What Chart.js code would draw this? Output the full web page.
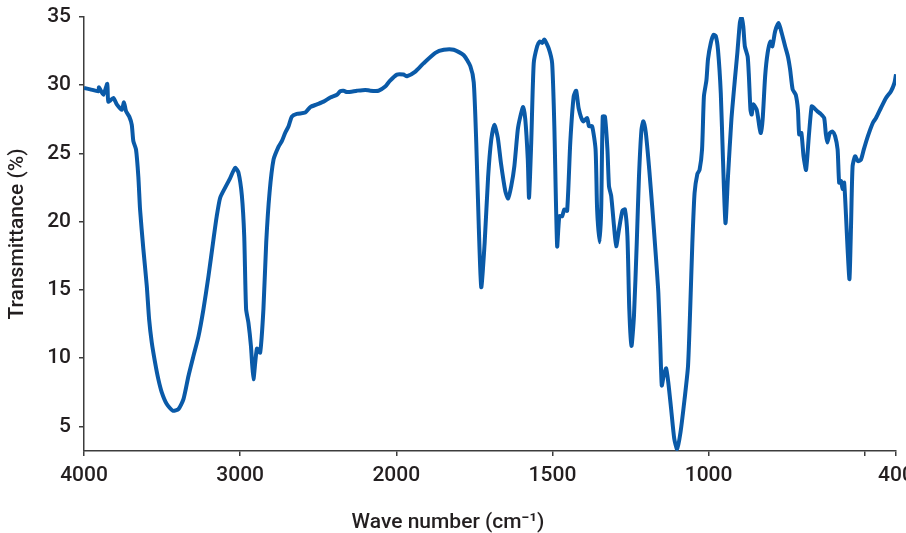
<!DOCTYPE html>
<html>
<head>
<meta charset="utf-8">
<script src="https://cdn.jsdelivr.net/npm/chart.js@4.4.1/dist/chart.umd.min.js"></script>
<style>
  html, body { margin: 0; padding: 0; background: #fff; }
</style>
</head>
<body>
<canvas id="grafico" width="906" height="533"></canvas>
<script>
// Espectro IR: numero de onda (cm-1) e transmitancia (%)
const numeroOnda = [
  4000, 3960, 3908, 3904, 3876, 3851, 3844, 3812, 3790, 3758, 3744, 3731, 3710, 3694, 3684, 3667,
  3652, 3641, 3620, 3598, 3583, 3566, 3545, 3524, 3502, 3470, 3431, 3395, 3363, 3331, 3299, 3267,
  3235, 3203, 3171, 3150, 3128, 3096, 3064, 3032, 3011, 2989, 2974, 2962, 2947, 2931, 2915, 2893,
  2872, 2851, 2833, 2812, 2786, 2754, 2733, 2712, 2690, 2669, 2637, 2583, 2551, 2508, 2466, 2423,
  2380, 2359, 2338, 2316, 2252, 2199, 2167, 2114, 2071, 2043, 1998, 1977, 1966, 1939, 1913, 1875,
  1848, 1816, 1784, 1763, 1752, 1744, 1736, 1728, 1717, 1706, 1696, 1686, 1675, 1665, 1651, 1642,
  1632, 1622, 1611, 1603, 1594, 1587, 1579, 1575, 1568, 1560, 1549, 1541, 1533, 1526, 1512, 1501,
  1494, 1485, 1478, 1469, 1462, 1453, 1443, 1432, 1424, 1416, 1402, 1389, 1383, 1373, 1362, 1357,
  1349, 1344, 1339, 1332, 1324, 1319, 1312, 1303, 1296, 1287, 1276, 1268, 1260, 1254, 1247, 1239,
  1230, 1223, 1215, 1209, 1201, 1190, 1180, 1169, 1161, 1155, 1150, 1144, 1136, 1129, 1120, 1110,
  1101, 1090, 1077, 1066, 1059, 1052, 1045, 1036, 1029, 1021, 1015, 1007, 1002, 993, 984, 977,
  970, 961, 954, 946, 938, 927, 916, 908, 900, 895, 889, 884, 875, 871, 866, 862,
  857, 846, 837, 833, 827, 819, 811, 802, 796, 787, 776, 766, 755, 746, 739, 731,
  721, 714, 710, 703, 696, 688, 679, 670, 663, 652, 641, 630, 625, 620, 612, 603,
  595, 587, 582, 576, 571, 566, 560, 555, 549, 544, 539, 531, 522, 512, 503, 490,
  474, 464, 448, 432, 416, 405, 400
];
const transmitancia = [
  29.8, 29.7, 29.56, 29.85, 29.3, 30.1, 28.8, 29.07, 28.6, 28.2, 28.75, 28.1, 27.7, 27.1, 25.9, 25.3,
  23.3, 20.9, 18.0, 15.3, 12.85, 11.15, 9.7, 8.47, 7.5, 6.64, 6.15, 6.27, 7.0, 8.7, 10.17, 11.6,
  13.6, 16.0, 18.7, 20.4, 21.76, 22.5, 23.2, 23.95, 23.6, 21.9, 18.95, 13.6, 12.6, 10.9, 8.47, 10.7,
  10.4, 13.6, 18.5, 22.1, 24.56, 25.5, 25.9, 26.5, 27.0, 27.7, 27.9, 28.0, 28.4, 28.6, 28.8, 29.1,
  29.3, 29.56, 29.6, 29.5, 29.6, 29.66, 29.6, 29.6, 29.9, 30.3, 30.78, 30.78, 30.66, 31.0, 31.6, 32.37,
  32.6, 32.6, 32.2, 31.4, 30.2, 25.8, 19.7, 15.2, 18.5, 23.3, 26.0, 27.1, 26.15, 24.3, 22.24, 21.7,
  22.6, 24.07, 26.75, 27.7, 28.4, 27.5, 24.56, 21.76, 25.8, 31.6, 32.85, 33.2, 33.1, 33.34, 32.7, 31.6,
  27.0, 18.2, 20.4, 20.4, 20.9, 20.8, 25.8, 29.2, 29.6, 28.3, 27.36, 27.6, 27.0, 27.0, 25.3, 20.9,
  18.5, 20.9, 27.7, 27.7, 25.3, 22.6, 21.9, 19.7, 18.2, 19.44, 20.8, 20.9, 18.95, 13.6, 10.9, 13.1,
  18.5, 23.3, 26.75, 27.36, 26.5, 23.8, 20.9, 17.5, 14.8, 11.15, 8.0, 8.7, 9.25, 8.2, 6.27, 4.1,
  3.35, 4.57, 7.0, 9.4, 13.6, 18.5, 22.1, 23.5, 23.8, 25.3, 29.2, 30.36, 31.9, 33.1, 33.7, 33.6,
  32.6, 29.4, 24.56, 19.9, 23.3, 27.5, 30.4, 32.37, 34.56, 35.0, 34.3, 32.85, 32.1, 30.66, 28.2, 27.85,
  28.6, 28.2, 26.9, 26.5, 27.5, 30.66, 32.37, 33.2, 32.85, 33.95, 34.56, 33.83, 32.85, 32.1, 31.15, 29.7,
  29.3, 28.2, 26.4, 26.5, 24.8, 23.8, 26.3, 28.46, 28.35, 28.1, 27.9, 27.6, 26.5, 25.8, 26.5, 26.6,
  26.27, 25.3, 22.86, 22.98, 22.4, 22.86, 20.4, 18.0, 15.8, 19.7, 24.07, 24.8, 24.44, 24.56, 25.3, 26.27,
  27.25, 27.6, 28.35, 29.07, 29.56, 30.17, 30.8
];
const ticksX = [4000, 3000, 2000, 1500, 1000, 500, 400];
const ticksXSemRotulo = [500];
const ticksY = [5, 10, 15, 20, 25, 30, 35];

// acima de 2000 cm-1 o eixo fica comprimido pela metade
const paraEixo = w => (w > 2000 ? 2000 + (w - 2000) / 2 : w);
const doEixo = u => (u > 2000 ? 2000 + (u - 2000) * 2 : u);

const pontos = numeroOnda.map((w, i) => ({ x: paraEixo(w), y: transmitancia[i] }));

const corTexto = "#231f20";
const corEixo = "#3c3c3c";
const fonte = "Roboto, 'Liberation Sans', Arial, sans-serif";

const ctx = document.getElementById("grafico").getContext("2d");

new Chart(ctx, {
  type: "line",
  data: {
    datasets: [{
      data: pontos,
      borderColor: "#0a5aa8",
      borderWidth: 4,
      pointRadius: 0,
      tension: 0.2,
      fill: false
    }]
  },
  options: {
    responsive: false,
    animation: false,
    layout: { padding: { top: 17, right: 10, left: 0, bottom: 0 } },
    plugins: {
      legend: { display: false },
      tooltip: { enabled: false },
      title: {
        display: true,
        position: "bottom",
        text: "Wave number (cm\u207B\u00B9)",
        color: corTexto,
        font: { family: fonte, size: 21, weight: 500, lineHeight: 1 },
        padding: 0
      }
    },
    scales: {
      x: {
        type: "linear",
        reverse: true,
        min: 400,
        max: 3000,
        afterBuildTicks: s => { s.ticks = ticksX.map(w => ({ value: paraEixo(w) })); },
        afterFit: s => { s.height = 61; s.paddingLeft = 0; s.paddingRight = 0; },
        ticks: {
          autoSkip: false,
          maxRotation: 0,
          padding: 7,
          color: corTexto,
          font: { family: fonte, size: 21, weight: 500 },
          callback: v => {
            const w = Math.round(doEixo(v));
            return ticksXSemRotulo.includes(w) ? "" : String(w);
          }
        },
        grid: { drawOnChartArea: false, tickLength: 5, color: corEixo, lineWidth: 1.5 },
        border: { color: corEixo, width: 1.5 }
      },
      y: {
        min: 3.2,
        max: 35,
        afterBuildTicks: s => { s.ticks = ticksY.map(v => ({ value: v })); },
        afterFit: s => { s.width = 84; s.paddingTop = 0; s.paddingBottom = 0; },
        ticks: {
          padding: 8,
          color: corTexto,
          font: { family: fonte, size: 21, weight: 500 }
        },
        title: {
          display: true,
          text: "Transmittance (%)",
          color: corTexto,
          font: { family: fonte, size: 21, weight: 500, lineHeight: 1 },
          padding: { top: 7, bottom: 0 }
        },
        grid: { drawOnChartArea: false, tickLength: 5, color: corEixo, lineWidth: 1.5 },
        border: { color: corEixo, width: 1.5 }
      }
    }
  }
});
</script>
</body>
</html>
